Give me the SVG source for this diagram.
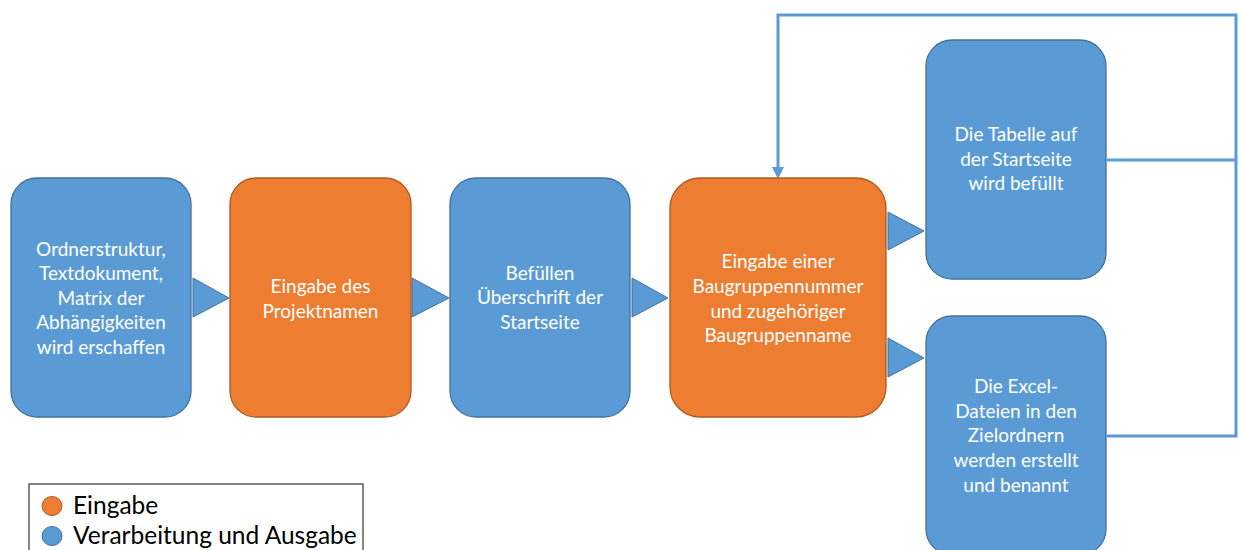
<svg xmlns="http://www.w3.org/2000/svg" width="1239" height="550" viewBox="0 0 1239 550">
<style>
.blue{fill:#5B9BD5;stroke:#41719C;stroke-width:1.3}
.orange{fill:#ED7D31;stroke:#AE5A21;stroke-width:1.3}
.tri{fill:#5B9BD5;stroke:#41719C;stroke-width:1}
.t{font-family:Lato,"Liberation Sans",sans-serif;font-size:19px;fill:#FFFFFF;text-anchor:middle}
.lg{font-family:Lato,"Liberation Sans",sans-serif;font-size:24.5px;fill:#000000}
.line{fill:none;stroke:#5B9BD5;stroke-width:3}
</style>
<rect width="1239" height="550" fill="#FFFFFF"/>
<g id="connectors">
<polygon class="tri" points="193,278 229,298 193,317"/>
<polygon class="tri" points="412,278 449,298 412,317"/>
<polygon class="tri" points="632,278 668,298 632,317"/>
<polygon class="tri" points="888,212 924,231 888,250"/>
<polygon class="tri" points="888,338 924,358 888,377"/>
<polyline class="line" points="1107,160 1236,160"/>
<polyline class="line" points="1107,436 1236,436 1236,15 778,15 778,170"/>
<polygon points="772,167 784,167 778,179" fill="#5B9BD5"/>
</g>
<g id="node1">
<rect class="blue" x="11" y="178" width="180" height="239" rx="26"/>
<text class="t" x="101" y="256">Ordnerstruktur,</text>
<text class="t" x="101" y="280">Textdokument,</text>
<text class="t" x="101" y="305">Matrix der</text>
<text class="t" x="101" y="329">Abhängigkeiten</text>
<text class="t" x="101" y="354">wird erschaffen</text>
</g>
<g id="node2">
<rect class="orange" x="230" y="178" width="181" height="239" rx="26"/>
<text class="t" x="320.5" y="293">Eingabe des</text>
<text class="t" x="320.5" y="318">Projektnamen</text>
</g>
<g id="node3">
<rect class="blue" x="450" y="178" width="180" height="239" rx="26"/>
<text class="t" x="540" y="280">Befüllen</text>
<text class="t" x="540" y="304">Überschrift der</text>
<text class="t" x="540" y="329">Startseite</text>
</g>
<g id="node4">
<rect class="orange" x="670" y="178" width="216" height="239" rx="30"/>
<text class="t" x="778" y="268">Eingabe einer</text>
<text class="t" x="778" y="293">Baugruppennummer</text>
<text class="t" x="778" y="318">und zugehöriger</text>
<text class="t" x="778" y="342">Baugruppenname</text>
</g>
<g id="node5">
<rect class="blue" x="926" y="40" width="180" height="239" rx="26"/>
<text class="t" x="1016" y="141">Die Tabelle auf</text>
<text class="t" x="1016" y="166">der Startseite</text>
<text class="t" x="1016" y="190">wird befüllt</text>
</g>
<g id="node6">
<rect class="blue" x="926" y="316" width="180" height="239" rx="26"/>
<text class="t" x="1016" y="393">Die Excel-</text>
<text class="t" x="1016" y="418">Dateien in den</text>
<text class="t" x="1016" y="442">Zielordnern</text>
<text class="t" x="1016" y="467">werden erstellt</text>
<text class="t" x="1016" y="492">und benannt</text>
</g>
<g id="legend">
<rect x="29" y="484" width="334" height="70" fill="#FFFFFF" stroke="#404040" stroke-width="1.3"/>
<ellipse cx="52" cy="506" rx="10" ry="9.5" fill="#ED7D31" stroke="#AE5A21" stroke-width="1"/>
<text class="lg" x="73" y="514">Eingabe</text>
<ellipse cx="52" cy="536" rx="10" ry="9.5" fill="#5B9BD5" stroke="#41719C" stroke-width="1"/>
<text class="lg" x="73" y="544">Verarbeitung und Ausgabe</text>
</g>
</svg>
